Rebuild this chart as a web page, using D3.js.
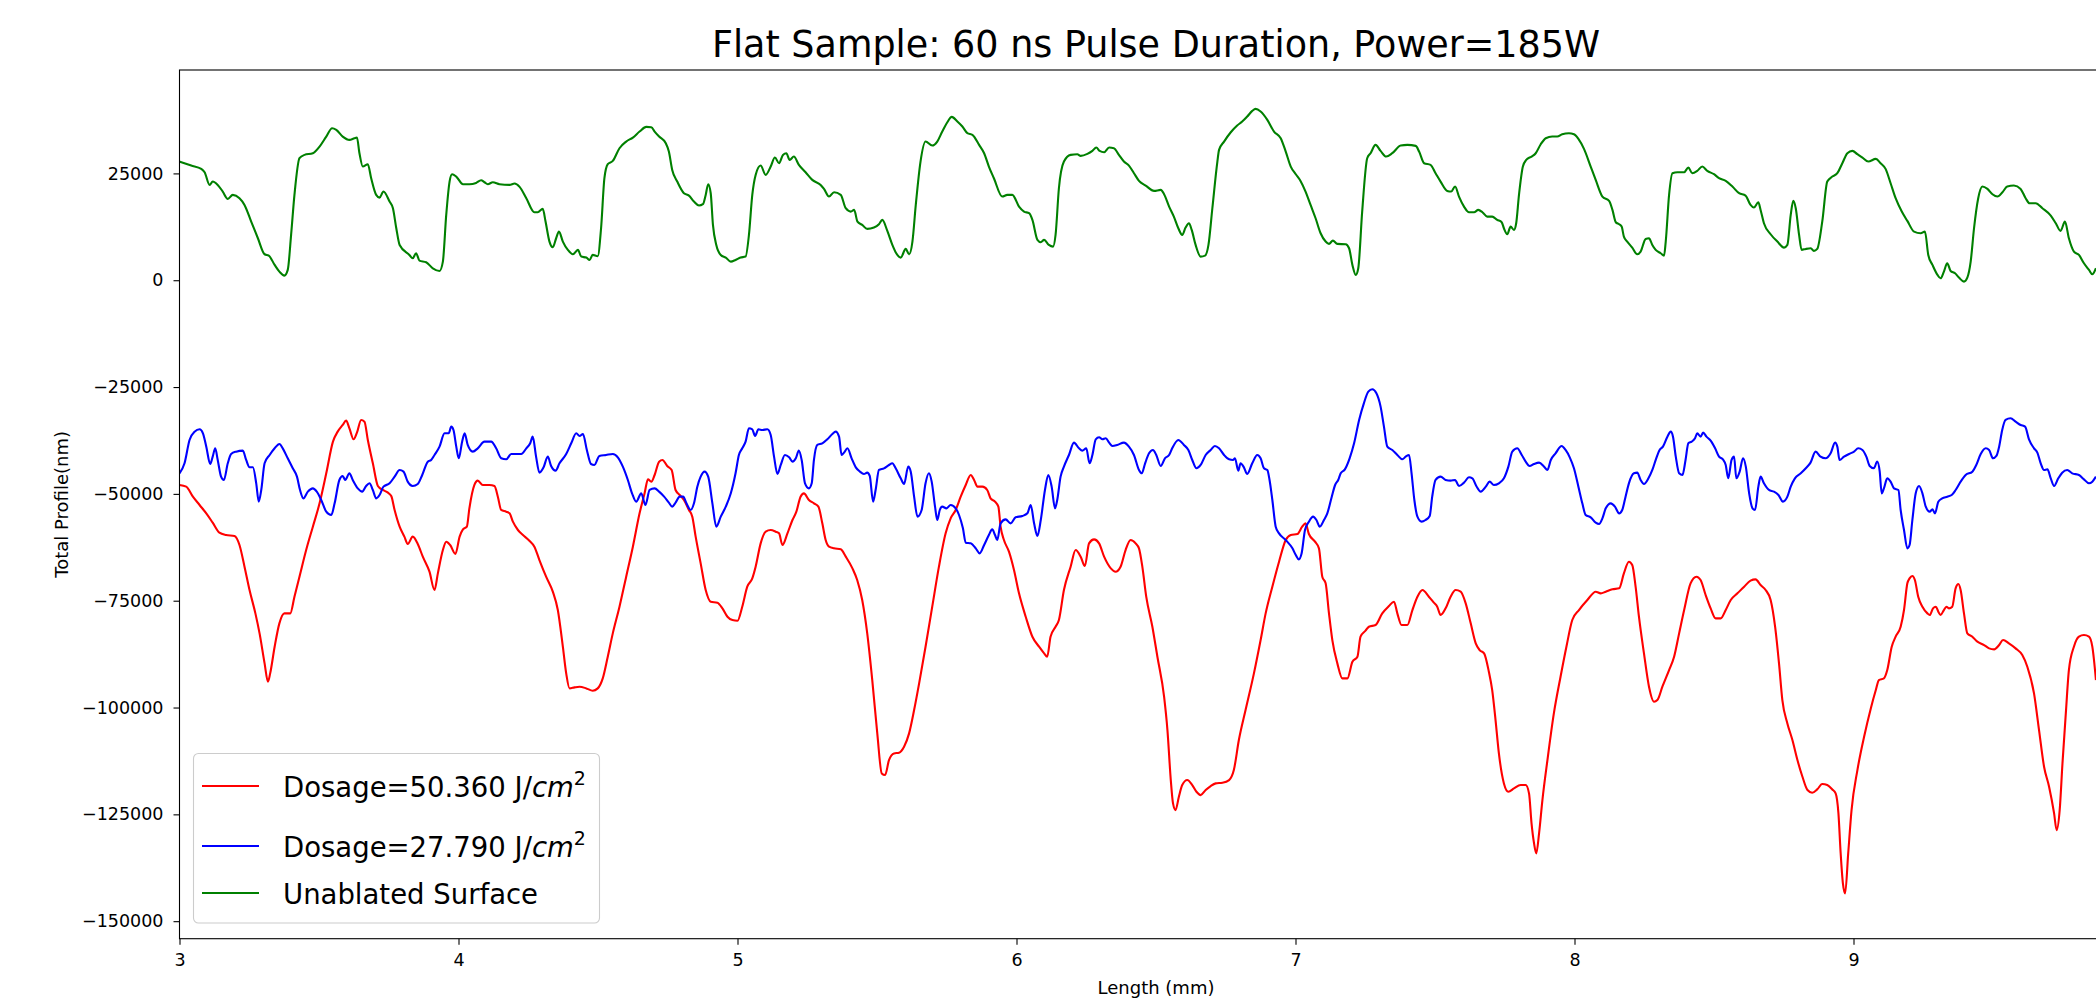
<!DOCTYPE html>
<html>
<head>
<meta charset="utf-8">
<script src="https://cdn.jsdelivr.net/npm/d3@7"></script>
<style>
body { margin: 0; background: #fff; }
svg text { font-family: "DejaVu Sans", sans-serif; fill: #000; }
</style>
</head>
<body>
<div id="chart"></div>
<script>
var width = 2096;
var height = 998;

// text + ticks
var chartTitle = "Flat Sample: 60 ns Pulse Duration, Power=185W";
var xLabel = "Length (mm)";
var yLabel = "Total Profile(nm)";
var xTicks = [3, 4, 5, 6, 7, 8, 9];
var yTicks = [25000, 0, -25000, -50000, -75000, -100000, -125000, -150000];
var seriesDosage = ["50.360", "27.790", null];
var seriesColors = ["#ff0000", "#0000ff", "#008000"];

// [length mm, profile nm]
var redSeries = [[3.000,-47919],[3.024,-48310],[3.048,-50651],[3.072,-52601],[3.096,-54552],[3.119,-56737],[3.143,-59078],[3.167,-59624],[3.197,-59858],[3.215,-61965],[3.233,-67037],[3.251,-72499],[3.272,-77961],[3.287,-82643],[3.305,-89666],[3.317,-93957],[3.325,-92007],[3.341,-85764],[3.358,-80302],[3.376,-77961],[3.397,-77961],[3.412,-74060],[3.430,-69378],[3.454,-63136],[3.478,-57673],[3.502,-52211],[3.526,-45188],[3.550,-37776],[3.567,-35435],[3.585,-33874],[3.597,-32860],[3.609,-34654],[3.624,-37229],[3.636,-35669],[3.651,-32704],[3.663,-33094],[3.675,-37385],[3.693,-42848],[3.711,-48153],[3.729,-49090],[3.747,-49714],[3.759,-50495],[3.771,-53772],[3.789,-57673],[3.806,-60014],[3.818,-61731],[3.836,-60014],[3.854,-61731],[3.872,-64696],[3.896,-68207],[3.914,-72499],[3.926,-68597],[3.944,-63136],[3.956,-61185],[3.970,-61965],[3.989,-64072],[4.004,-60014],[4.016,-58297],[4.030,-57673],[4.039,-53382],[4.057,-47919],[4.069,-46905],[4.087,-47919],[4.111,-47919],[4.129,-48153],[4.141,-50651],[4.153,-53772],[4.171,-54162],[4.183,-54552],[4.195,-56503],[4.213,-58454],[4.231,-59624],[4.254,-60951],[4.272,-62355],[4.290,-65476],[4.314,-69378],[4.338,-72889],[4.356,-77181],[4.374,-85764],[4.386,-92007],[4.398,-95518],[4.416,-95284],[4.434,-95128],[4.458,-95518],[4.481,-96064],[4.499,-95518],[4.517,-93177],[4.535,-88105],[4.553,-82643],[4.577,-76401],[4.601,-69378],[4.625,-62355],[4.649,-54552],[4.667,-49870],[4.679,-46593],[4.691,-47139],[4.703,-45579],
[4.719,-42457],[4.731,-42067],[4.748,-43472],[4.764,-44408],[4.778,-49090],[4.793,-50261],[4.808,-51431],[4.826,-53772],[4.838,-55332],[4.850,-60014],[4.868,-66257],[4.886,-72499],[4.904,-75230],[4.928,-75464],[4.946,-76791],[4.964,-78742],[4.982,-79522],[5.000,-79678],[5.017,-76401],[5.035,-71719],[5.053,-69768],[5.065,-67037],[5.083,-61575],[5.101,-58844],[5.119,-58453],[5.137,-58844],[5.149,-59234],[5.161,-61965],[5.179,-59234],[5.197,-56113],[5.211,-54162],[5.226,-50651],[5.238,-49870],[5.256,-51431],[5.274,-52211],[5.290,-52991],[5.304,-56893],[5.316,-60795],[5.328,-62355],[5.346,-62745],[5.370,-62979],[5.388,-64696],[5.412,-67427],[5.429,-70158],[5.447,-74840],[5.465,-82643],[5.483,-93567],[5.501,-106052],[5.517,-115416],[5.529,-115806],[5.543,-112295],[5.561,-110734],[5.579,-110578],[5.597,-109174],[5.615,-106052],[5.633,-100590],[5.651,-94348],[5.674,-85764],[5.698,-76401],[5.722,-67037],[5.746,-59234],[5.764,-55722],[5.782,-53772],[5.800,-50651],[5.818,-47919],[5.836,-45579],[5.848,-46749],[5.860,-48310],[5.878,-48310],[5.895,-49090],[5.907,-51041],[5.923,-51821],[5.935,-52991],[5.943,-57673],[5.955,-60795],[5.973,-63526],[5.991,-67817],[6.009,-73279],[6.033,-78742],[6.057,-83423],[6.081,-85764],[6.099,-87325],[6.110,-88105],[6.122,-83423],[6.140,-81082],[6.152,-79522],[6.170,-72499],[6.194,-67037],[6.212,-63136],[6.230,-64696],[6.245,-66881],[6.260,-61575],[6.278,-60639],[6.296,-61575],[6.314,-64696],[6.338,-67427],[6.355,-68207],[6.373,-67037],[6.391,-63136],[6.409,-60795],[6.427,-61575],
[6.439,-62745],[6.451,-67037],[6.465,-74060],[6.487,-81082],[6.505,-88105],[6.529,-97469],[6.541,-105271],[6.553,-116976],[6.561,-122438],[6.570,-123999],[6.582,-120878],[6.594,-118147],[6.612,-116976],[6.630,-118147],[6.645,-119707],[6.660,-120488],[6.678,-119317],[6.696,-118381],[6.714,-117756],[6.738,-117600],[6.762,-116976],[6.779,-114635],[6.797,-107613],[6.821,-100590],[6.851,-92007],[6.875,-84204],[6.893,-77961],[6.917,-71719],[6.941,-65867],[6.965,-60795],[6.983,-59624],[7.007,-59390],[7.024,-57673],[7.036,-56893],[7.048,-59390],[7.070,-61185],[7.084,-62745],[7.096,-69378],[7.108,-70938],[7.120,-77961],[7.132,-84204],[7.150,-89666],[7.168,-93177],[7.186,-93177],[7.204,-89276],[7.222,-88105],[7.233,-83423],[7.251,-82019],[7.263,-81082],[7.287,-80692],[7.311,-77961],[7.335,-76245],[7.353,-75230],[7.365,-77961],[7.380,-80692],[7.401,-80692],[7.419,-77181],[7.437,-74060],[7.455,-72499],[7.478,-74060],[7.496,-75464],[7.508,-76401],[7.520,-78352],[7.538,-76791],[7.556,-74060],[7.574,-72499],[7.592,-72889],[7.610,-75620],[7.628,-80302],[7.646,-84984],[7.660,-86544],[7.676,-87325],[7.693,-91616],[7.705,-95908],[7.717,-102931],[7.729,-110734],[7.747,-117756],[7.763,-119707],[7.783,-118927],[7.807,-118147],[7.825,-118147],[7.837,-120097],[7.846,-127120],[7.855,-131802],[7.863,-134143],[7.873,-129461],[7.885,-121658],[7.903,-112295],[7.926,-101370],[7.950,-92787],[7.971,-85764],[7.992,-79522],[8.016,-77181],[8.046,-74840],[8.076,-72889],[8.094,-73279],[8.112,-72889],[8.136,-72343],
[8.160,-72109],[8.177,-68597],[8.195,-65867],[8.207,-66647],[8.219,-71719],[8.231,-78742],[8.249,-87325],[8.267,-95128],[8.285,-98639],[8.297,-98249],[8.315,-95128],[8.339,-91226],[8.357,-88105],[8.375,-82643],[8.393,-77181],[8.416,-70938],[8.437,-69378],[8.452,-70158],[8.470,-73669],[8.488,-76791],[8.506,-79131],[8.524,-79131],[8.542,-77181],[8.560,-74840],[8.584,-73279],[8.608,-71719],[8.631,-70313],[8.649,-70002],[8.667,-71329],[8.685,-72499],[8.703,-74840],[8.719,-81082],[8.733,-89666],[8.745,-98249],[8.763,-103711],[8.781,-107613],[8.799,-112295],[8.817,-116196],[8.835,-119317],[8.852,-119941],[8.870,-119161],[8.888,-117912],[8.906,-118147],[8.924,-119161],[8.936,-120097],[8.946,-124779],[8.954,-134143],[8.962,-141165],[8.970,-143506],[8.981,-134143],[8.993,-123999],[9.014,-114635],[9.038,-106832],[9.062,-100200],[9.080,-95908],[9.091,-93567],[9.109,-93177],[9.121,-91226],[9.137,-85764],[9.151,-83423],[9.169,-81082],[9.181,-77181],[9.193,-70938],[9.201,-69768],[9.211,-69222],[9.220,-70158],[9.232,-74060],[9.247,-76401],[9.265,-77961],[9.273,-78352],[9.285,-76791],[9.295,-76401],[9.304,-77571],[9.312,-78352],[9.324,-77181],[9.333,-76401],[9.342,-76791],[9.354,-76401],[9.366,-72109],[9.376,-71095],[9.384,-72499],[9.396,-77961],[9.408,-82643],[9.426,-83423],[9.444,-84594],[9.468,-85374],[9.486,-86154],[9.504,-86388],[9.522,-85374],[9.536,-84204],[9.557,-84984],[9.581,-86154],[9.605,-87715],[9.623,-90446],[9.647,-96688],[9.665,-105271],[9.683,-113855],[9.701,-118537],[9.719,-124779],[9.728,-128680],[9.739,-123999],[9.749,-113074],[9.761,-101370],[9.772,-91226],[9.790,-85764],[9.808,-83423],[9.826,-83033],[9.844,-83423],[9.856,-85764],[9.869,-93567]];

var blueSeries = [[3.000,-45188],[3.018,-42848],[3.036,-37385],[3.054,-35435],[3.072,-34888],[3.084,-35825],[3.096,-38946],[3.110,-43004],[3.119,-41287],[3.128,-39336],[3.137,-42067],[3.149,-45969],[3.159,-46749],[3.173,-42848],[3.185,-40663],[3.203,-40116],[3.227,-39882],[3.239,-42067],[3.251,-43784],[3.263,-43784],[3.275,-47529],[3.284,-51821],[3.293,-49090],[3.305,-42848],[3.323,-40897],[3.341,-39336],[3.358,-38322],[3.370,-39336],[3.388,-41677],[3.406,-44018],[3.421,-45969],[3.432,-49090],[3.444,-51041],[3.460,-49480],[3.478,-48700],[3.492,-49480],[3.508,-51431],[3.526,-54162],[3.544,-54942],[3.556,-52211],[3.573,-46749],[3.585,-45813],[3.594,-46749],[3.609,-45188],[3.621,-46749],[3.639,-48700],[3.655,-49480],[3.669,-48153],[3.681,-47529],[3.693,-49090],[3.705,-51041],[3.717,-50260],[3.731,-48310],[3.753,-47529],[3.771,-45969],[3.789,-44408],[3.803,-44798],[3.818,-47139],[3.836,-48153],[3.854,-47685],[3.870,-45579],[3.890,-42457],[3.902,-42067],[3.914,-40897],[3.932,-38946],[3.950,-35825],[3.965,-35825],[3.974,-34264],[3.982,-35045],[3.992,-38946],[4.001,-41677],[4.013,-37776],[4.022,-35825],[4.033,-38556],[4.051,-40116],[4.069,-39336],[4.093,-37776],[4.117,-37776],[4.135,-39336],[4.153,-41677],[4.171,-41911],[4.189,-40663],[4.207,-40663],[4.225,-40663],[4.243,-39336],[4.257,-38166],[4.266,-36605],[4.278,-41287],[4.290,-45032],[4.305,-43784],[4.320,-41287],[4.332,-43472],[4.348,-44564],[4.362,-42848],[4.386,-40663],[4.404,-38166],[4.422,-35825],[4.434,-36449],[4.446,-35981],[4.460,-39726],[4.475,-43004],[4.487,-43238],[4.505,-41131],[4.529,-40897],[4.553,-40663],[4.571,-41443],[4.589,-43628],[4.607,-46749],[4.622,-49870],[4.637,-51821],[4.655,-49870],[4.670,-52601],[4.685,-49090],[4.703,-48700],
[4.719,-49480],[4.737,-50651],[4.754,-52055],[4.766,-52991],[4.778,-52055],[4.793,-50651],[4.805,-50651],[4.817,-52211],[4.832,-53772],[4.844,-52211],[4.856,-48310],[4.868,-45969],[4.882,-44798],[4.895,-45969],[4.910,-52211],[4.924,-57673],[4.940,-55332],[4.958,-52991],[4.976,-49870],[4.993,-45188],[5.005,-40897],[5.017,-39336],[5.029,-37776],[5.041,-34654],[5.053,-34888],[5.063,-36449],[5.075,-34888],[5.089,-35045],[5.107,-34888],[5.119,-36215],[5.131,-41287],[5.143,-45345],[5.155,-43238],[5.170,-40897],[5.185,-41443],[5.197,-42457],[5.209,-41677],[5.220,-39882],[5.230,-42067],[5.242,-47529],[5.256,-48700],[5.266,-47529],[5.274,-42067],[5.286,-38556],[5.304,-38166],[5.322,-37229],[5.340,-35981],[5.352,-35435],[5.364,-36605],[5.373,-40897],[5.382,-40350],[5.394,-39336],[5.409,-41677],[5.424,-43784],[5.439,-44798],[5.453,-45345],[5.465,-45032],[5.474,-45813],[5.486,-51821],[5.495,-49090],[5.507,-44408],[5.525,-44018],[5.543,-43238],[5.555,-42848],[5.567,-44018],[5.585,-46359],[5.597,-47685],[5.612,-43628],[5.621,-44798],[5.633,-50651],[5.645,-55332],[5.660,-53772],[5.674,-47529],[5.686,-45188],[5.696,-47139],[5.708,-52991],[5.716,-56113],[5.725,-53772],[5.734,-52991],[5.749,-53382],[5.764,-52601],[5.782,-53382],[5.794,-54942],[5.808,-58063],[5.818,-61419],[5.836,-61575],[5.854,-62745],[5.868,-63916],[5.884,-61965],[5.901,-59624],[5.913,-58297],[5.923,-59624],[5.931,-60794],[5.943,-56893],[5.961,-55957],[5.979,-56893],[5.997,-55488],[6.021,-55176],[6.039,-54552],[6.051,-52601],[6.063,-56893],[6.075,-59858],[6.087,-56113],[6.102,-49090],[6.114,-45579],[6.126,-48310],[6.138,-53382],[6.146,-51431],[6.158,-45969],[6.170,-43628],[6.188,-40897],[6.206,-38010],[6.224,-39336],[6.236,-39882],[6.250,-39336],[6.262,-42848],[6.272,-40897],[6.284,-37229],[6.296,-36761],[6.308,-37229],[6.320,-36995],[6.332,-38010],[6.344,-38790],[6.361,-38556],[6.385,-38010],[6.403,-38946],[6.421,-40897],
[6.439,-44408],[6.449,-45188],[6.461,-42848],[6.475,-40507],[6.489,-39726],[6.501,-40897],[6.517,-43472],[6.532,-41677],[6.547,-40897],[6.558,-39336],[6.580,-37385],[6.600,-38556],[6.616,-39726],[6.630,-42067],[6.645,-44018],[6.660,-43238],[6.678,-40897],[6.696,-39726],[6.711,-38790],[6.726,-39336],[6.744,-40897],[6.762,-41911],[6.776,-42067],[6.783,-41677],[6.795,-44564],[6.803,-42848],[6.815,-43784],[6.827,-45345],[6.845,-42848],[6.863,-40897],[6.875,-41677],[6.887,-44018],[6.899,-44408],[6.907,-46749],[6.917,-51431],[6.929,-57673],[6.941,-59234],[6.965,-60794],[6.989,-62745],[7.001,-64306],[7.012,-65320],[7.022,-63916],[7.034,-58453],[7.048,-56503],[7.063,-55332],[7.075,-56113],[7.087,-57673],[7.102,-56113],[7.114,-54552],[7.130,-50651],[7.142,-47919],[7.153,-46749],[7.162,-45188],[7.177,-44252],[7.194,-41677],[7.210,-38166],[7.228,-32704],[7.245,-28802],[7.261,-26071],[7.275,-25525],[7.290,-26461],[7.305,-29582],[7.317,-34264],[7.329,-38946],[7.347,-39726],[7.365,-40897],[7.383,-41911],[7.395,-41287],[7.407,-40897],[7.416,-45188],[7.426,-51431],[7.437,-55332],[7.452,-56503],[7.466,-56113],[7.481,-55176],[7.490,-50651],[7.502,-46749],[7.520,-45969],[7.538,-46749],[7.556,-46905],[7.572,-46749],[7.586,-48153],[7.604,-47373],[7.622,-46125],[7.634,-46359],[7.648,-48153],[7.664,-49480],[7.682,-48310],[7.696,-47139],[7.711,-47919],[7.729,-47529],[7.747,-46359],[7.763,-43628],[7.777,-40116],[7.795,-39336],[7.811,-40897],[7.825,-42457],[7.839,-43472],[7.855,-43004],[7.873,-42691],[7.891,-43628],[7.903,-44408],[7.915,-42067],[7.932,-40507],[7.954,-38790],[7.968,-39726],[7.983,-41443],[7.998,-44018],[8.014,-48310],[8.028,-52211],[8.040,-54942],[8.058,-55488],[8.076,-56737],[8.088,-57049],[8.100,-55722],[8.112,-53382],[8.130,-52211],[8.145,-52991],
[8.160,-54552],[8.171,-53772],[8.183,-50651],[8.195,-47529],[8.213,-45188],[8.225,-45032],[8.237,-46749],[8.249,-47685],[8.265,-46359],[8.279,-44408],[8.293,-41677],[8.305,-39726],[8.317,-38946],[8.333,-36605],[8.345,-35435],[8.353,-36605],[8.363,-41287],[8.375,-45188],[8.387,-45579],[8.398,-42067],[8.408,-38166],[8.420,-37776],[8.432,-36995],[8.440,-35825],[8.452,-36605],[8.461,-35669],[8.473,-36605],[8.488,-37541],[8.504,-39336],[8.518,-41287],[8.532,-41911],[8.542,-43238],[8.551,-46359],[8.563,-42067],[8.572,-41287],[8.580,-46359],[8.592,-44798],[8.604,-41677],[8.614,-43628],[8.626,-49870],[8.638,-53382],[8.647,-53772],[8.659,-48310],[8.667,-45969],[8.679,-47529],[8.697,-49090],[8.715,-49480],[8.731,-50261],[8.747,-51821],[8.763,-50651],[8.775,-48310],[8.790,-46359],[8.811,-45188],[8.829,-44018],[8.846,-42691],[8.864,-40116],[8.882,-41287],[8.900,-41677],[8.918,-40507],[8.934,-38010],[8.942,-38946],[8.950,-42067],[8.966,-41287],[8.984,-40663],[9.002,-40116],[9.017,-39336],[9.032,-39726],[9.046,-41287],[9.058,-43472],[9.073,-44018],[9.085,-42457],[9.094,-44798],[9.101,-49870],[9.109,-48700],[9.121,-46359],[9.133,-47139],[9.145,-48700],[9.161,-49090],[9.169,-53772],[9.181,-58453],[9.193,-62745],[9.201,-61965],[9.211,-56113],[9.223,-49870],[9.235,-48153],[9.247,-49870],[9.259,-52991],[9.273,-54162],[9.283,-53616],[9.292,-54552],[9.304,-51821],[9.318,-51041],[9.336,-50651],[9.352,-50261],[9.366,-49090],[9.384,-47139],[9.402,-45579],[9.426,-44798],[9.440,-43238],[9.456,-40663],[9.474,-39336],[9.486,-39726],[9.500,-41677],[9.512,-41131],[9.522,-38946],[9.533,-35045],[9.545,-32704],[9.563,-32313],[9.581,-33094],[9.599,-33874],[9.615,-34264],[9.629,-37229],[9.647,-39336],[9.659,-40350],[9.671,-42848],[9.683,-44408],[9.695,-44252],[9.707,-46359],[9.719,-48153],[9.734,-46359],[9.748,-45032],[9.766,-44408],[9.784,-45188],[9.808,-45579],[9.826,-46593],[9.844,-47529],[9.856,-47139],[9.869,-45969]];

var greenSeries = [[3.000,27772],[3.042,26836],[3.078,26055],[3.090,25275],[3.108,22310],[3.119,23091],[3.137,22310],[3.155,20749],[3.173,19033],[3.191,19969],[3.215,19189],[3.233,17628],[3.257,13727],[3.281,9825],[3.305,6080],[3.320,5768],[3.341,3583],[3.358,2022],[3.376,1086],[3.388,2413],[3.400,10605],[3.412,19969],[3.430,28552],[3.448,29333],[3.478,29723],[3.502,31283],[3.526,33624],[3.547,35575],[3.562,35185],[3.585,33624],[3.609,32844],[3.627,33234],[3.636,33390],[3.645,29723],[3.657,26602],[3.675,27148],[3.687,23871],[3.705,19969],[3.717,19344],[3.731,20749],[3.753,18408],[3.765,16848],[3.777,12166],[3.789,8264],[3.824,5924],[3.836,5144],[3.848,6314],[3.860,4598],[3.884,4208],[3.908,2802],[3.932,2178],[3.944,4363],[3.956,15287],[3.968,23091],[3.977,24807],[3.992,24261],[4.016,22466],[4.039,22466],[4.063,22778],[4.081,23402],[4.093,22934],[4.105,22466],[4.123,22934],[4.147,22466],[4.183,22310],[4.201,22622],[4.219,21842],[4.243,19189],[4.272,15912],[4.284,15912],[4.302,16692],[4.312,13727],[4.326,9045],[4.338,7718],[4.350,9825],[4.360,11386],[4.374,9045],[4.392,7094],[4.410,6080],[4.428,7094],[4.440,5534],[4.458,5300],[4.470,4754],[4.481,5924],[4.499,5612],[4.511,12166],[4.523,23871],[4.535,27148],[4.553,27928],[4.577,30893],[4.601,32454],[4.625,33390],[4.649,34795],[4.673,35887],[4.691,35809],[4.703,34795],
[4.719,33624],[4.743,32064],[4.754,30113],[4.766,25821],[4.784,23091],[4.808,20359],[4.826,19813],[4.844,18408],[4.862,17472],[4.876,17784],[4.886,19969],[4.895,22466],[4.904,20359],[4.912,12947],[4.924,8264],[4.940,5924],[4.958,5300],[4.976,4363],[4.993,4754],[5.011,5300],[5.029,5534],[5.041,10605],[5.053,19969],[5.065,24651],[5.083,26836],[5.101,24651],[5.119,26602],[5.134,28709],[5.149,27382],[5.163,29333],[5.175,29723],[5.187,28162],[5.202,28943],[5.220,26992],[5.244,25275],[5.268,23480],[5.298,22310],[5.310,21374],[5.328,19579],[5.346,20593],[5.370,19969],[5.388,16848],[5.406,16067],[5.418,16457],[5.430,13727],[5.447,12947],[5.465,12010],[5.489,12322],[5.507,13103],[5.519,14117],[5.537,11542],[5.555,8264],[5.569,6314],[5.585,5300],[5.603,7328],[5.615,6080],[5.627,9045],[5.639,17628],[5.656,27772],[5.674,32454],[5.698,31518],[5.716,32454],[5.734,34795],[5.752,36980],[5.768,38228],[5.788,37136],[5.806,35965],[5.824,34404],[5.842,34014],[5.866,31673],[5.884,29723],[5.901,26602],[5.919,23871],[5.949,19579],[5.967,19969],[5.985,19969],[6.009,17238],[6.027,16067],[6.045,15678],[6.057,14117],[6.075,9435],[6.087,8889],[6.099,9435],[6.116,8264],[6.131,7874],[6.140,10605],[6.152,21530],[6.170,27772],[6.194,29333],[6.218,29489],[6.230,29099],[6.254,29567],[6.272,30269],[6.286,31049],[6.298,30269],[6.314,29957],[6.332,31049],[6.349,30893],[6.367,29333],[6.385,27772],[6.403,26836],[6.421,25041],
[6.439,23247],[6.463,22154],[6.493,20905],[6.517,21139],[6.529,20125],[6.547,17238],[6.564,14897],[6.580,12166],[6.594,10605],[6.606,12322],[6.618,13337],[6.628,11776],[6.642,8264],[6.660,5534],[6.676,5768],[6.688,8264],[6.702,16848],[6.720,27772],[6.726,30503],[6.744,32454],[6.768,34639],[6.791,36199],[6.809,37136],[6.827,38308],[6.845,39633],[6.857,40101],[6.875,39477],[6.899,37526],[6.923,34795],[6.947,33234],[6.965,30113],[6.983,26602],[7.001,24807],[7.018,23247],[7.036,20749],[7.054,17628],[7.072,14507],[7.090,10995],[7.108,9045],[7.120,8498],[7.134,9279],[7.150,8498],[7.180,8420],[7.192,7484],[7.204,3583],[7.216,1242],[7.225,2802],[7.239,16067],[7.257,28552],[7.269,29723],[7.287,31673],[7.305,30269],[7.325,28943],[7.347,29723],[7.377,31518],[7.401,31673],[7.431,31439],[7.443,30113],[7.461,27382],[7.484,26992],[7.502,25041],[7.520,23091],[7.544,20905],[7.558,20749],[7.572,21920],[7.586,19579],[7.604,17238],[7.622,15912],[7.640,15912],[7.655,16457],[7.670,15912],[7.687,14897],[7.705,14897],[7.723,14117],[7.739,13571],[7.747,12166],[7.759,10761],[7.771,12556],[7.783,11776],[7.791,13337],[7.801,19969],[7.815,26602],[7.827,28162],[7.846,28943],[7.861,29723],[7.879,31830],[7.897,33234],[7.920,33624],[7.938,33624],[7.956,34171],[7.980,34405],[7.998,34171],[8.014,33078],[8.034,30737],[8.058,26602],[8.076,23481],[8.100,19579],[8.124,18565],[8.136,16458],[8.148,13571],
[8.160,13103],[8.169,12556],[8.177,10215],[8.189,9045],[8.207,7640],[8.225,6080],[8.237,6704],[8.255,9669],[8.267,9825],[8.279,8264],[8.291,7094],[8.309,6314],[8.321,5768],[8.327,9045],[8.339,19969],[8.351,25041],[8.369,25275],[8.393,25275],[8.408,26367],[8.422,25041],[8.440,25587],[8.458,26602],[8.476,25587],[8.500,24807],[8.518,23871],[8.542,23247],[8.566,21920],[8.590,20359],[8.613,19813],[8.631,17628],[8.643,17004],[8.659,18253],[8.667,16458],[8.679,13337],[8.703,10761],[8.727,9045],[8.751,7640],[8.763,8264],[8.775,15287],[8.784,18565],[8.793,16848],[8.805,10605],[8.814,7094],[8.829,7328],[8.847,7484],[8.858,6860],[8.870,7328],[8.888,13727],[8.906,23091],[8.924,24261],[8.942,25041],[8.960,27382],[8.978,29723],[8.996,30269],[9.014,29489],[9.032,28709],[9.053,27772],[9.080,28397],[9.097,27382],[9.115,26055],[9.133,22700],[9.151,19189],[9.173,16067],[9.193,13883],[9.217,11386],[9.241,10995],[9.256,11386],[9.268,5924],[9.283,3583],[9.301,1242],[9.312,461],[9.324,2022],[9.336,3973],[9.348,2178],[9.364,1632],[9.378,617],[9.396,-319],[9.408,617],[9.420,4363],[9.432,12166],[9.447,19189],[9.462,21920],[9.480,21374],[9.498,20125],[9.516,19579],[9.534,20593],[9.551,21920],[9.575,22154],[9.599,21374],[9.617,19189],[9.631,18018],[9.653,18018],[9.677,16848],[9.707,15131],[9.725,13337],[9.742,11542],[9.758,13727],[9.772,9825],[9.790,6704],[9.808,5924],[9.826,3973],[9.844,2413],[9.856,1398],[9.869,2802]];

var allSeries = [redSeries, blueSeries, greenSeries];

// plot box (right edge falls outside the picture)
var plotLeft = 179.5, plotRight = 2132.5, plotTop = 70, plotBottom = 938.7;

var xScale = d3.scaleLinear().domain([3, 10]).range([plotLeft, plotRight]);
var yScale = d3.scaleLinear().domain([-154100, 49200]).range([plotBottom, plotTop]);

var svg = d3.select("#chart")
    .append("svg")
    .attr("width", width)
    .attr("height", height);

svg.append("rect").attr("width", width).attr("height", height).attr("fill", "#fff");

svg.append("clipPath").attr("id", "plotClip")
    .append("rect")
    .attr("x", plotLeft).attr("y", plotTop)
    .attr("width", plotRight - plotLeft).attr("height", plotBottom - plotTop);

var line = d3.line()
    .curve(d3.curveMonotoneX)
    .x(function(d) { return xScale(d[0]); })
    .y(function(d) { return yScale(d[1]); });

var lines = svg.append("g").attr("clip-path", "url(#plotClip)");
allSeries.forEach(function(s, i) {
    lines.append("path")
        .datum(s)
        .attr("d", line)
        .attr("fill", "none")
        .attr("stroke", seriesColors[i])
        .attr("stroke-width", 2.1)
        .attr("stroke-linejoin", "round");
});

// axes
var xAxis = d3.axisBottom(xScale)
    .tickValues(xTicks)
    .tickSize(6)
    .tickPadding(9)
    .tickFormat(d3.format("d"));

var yAxis = d3.axisLeft(yScale)
    .tickValues(yTicks)
    .tickSize(6)
    .tickPadding(10)
    .tickFormat(d3.format("d"));

var gx = svg.append("g")
    .attr("transform", "translate(0," + plotBottom + ")")
    .call(xAxis);
var gy = svg.append("g")
    .attr("transform", "translate(" + plotLeft + ",0)")
    .call(yAxis);

[gx, gy].forEach(function(g) {
    g.select(".domain").remove();
    g.selectAll(".tick line").attr("stroke", "#000").attr("stroke-width", 1.1);
    g.selectAll(".tick text")
        .attr("font-family", "DejaVu Sans")
        .attr("font-size", 17.5)
        .attr("fill", "#000");
});

// spines
svg.append("rect")
    .attr("x", plotLeft).attr("y", plotTop)
    .attr("width", plotRight - plotLeft).attr("height", plotBottom - plotTop)
    .attr("fill", "none")
    .attr("stroke", "#000")
    .attr("stroke-width", 1.1);

// titles
svg.append("text")
    .attr("x", (plotLeft + plotRight) / 2)
    .attr("y", 57)
    .attr("text-anchor", "middle")
    .attr("font-size", 36.5)
    .text(chartTitle);

svg.append("text")
    .attr("x", (plotLeft + plotRight) / 2)
    .attr("y", 994)
    .attr("text-anchor", "middle")
    .attr("font-size", 18)
    .text(xLabel);

svg.append("text")
    .attr("transform", "translate(68," + ((plotTop + plotBottom) / 2) + ") rotate(-90)")
    .attr("text-anchor", "middle")
    .attr("font-size", 18)
    .text(yLabel);

// legend
var legend = svg.append("g");
legend.append("rect")
    .attr("x", 193.5).attr("y", 753.5)
    .attr("width", 406).attr("height", 169.5)
    .attr("rx", 5)
    .attr("fill", "#fff")
    .attr("fill-opacity", 0.8)
    .attr("stroke", "#cccccc")
    .attr("stroke-width", 1.1);

var legendRows = [786, 846, 893];
legendRows.forEach(function(ly, i) {
    legend.append("line")
        .attr("x1", 202).attr("x2", 259)
        .attr("y1", ly).attr("y2", ly)
        .attr("stroke", seriesColors[i])
        .attr("stroke-width", 2.1);
    var t = legend.append("text")
        .attr("x", 283)
        .attr("y", ly + 10.5)
        .attr("font-size", 27.5);
    if (seriesDosage[i]) {
        t.append("tspan").text("Dosage=" + seriesDosage[i] + " J/");
        t.append("tspan").attr("font-style", "italic").text("cm");
        t.append("tspan").attr("font-size", 19).attr("dy", -12).text("2");
    } else {
        t.text("Unablated Surface");
    }
});
</script>
</body>
</html>
